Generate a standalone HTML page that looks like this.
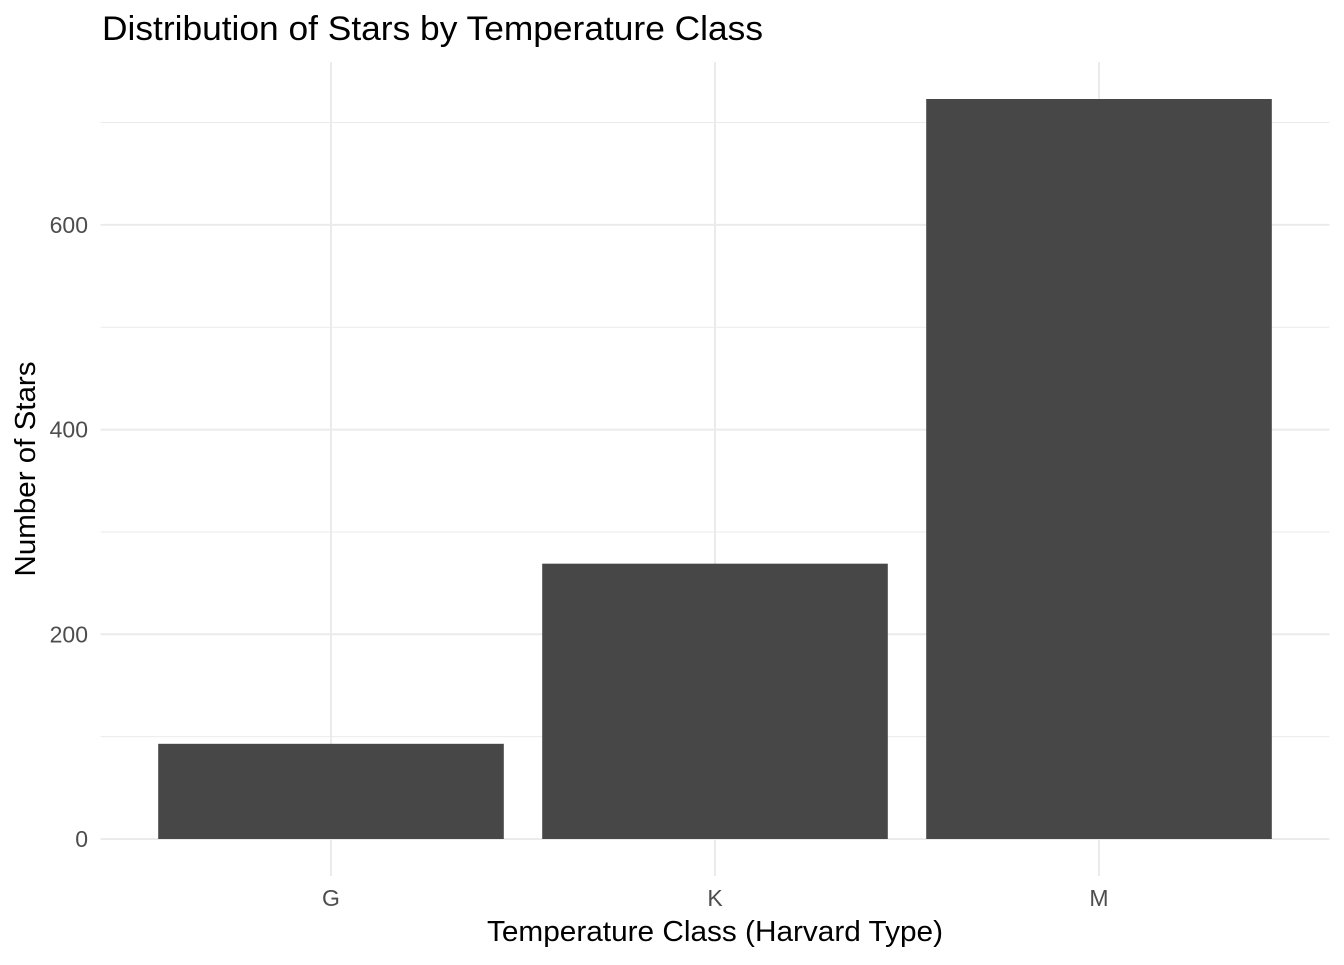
<!DOCTYPE html>
<html><head><meta charset="utf-8"><style>
body{margin:0;background:#fff;}
svg text{font-family:"Liberation Sans",Arial,sans-serif;}
</style></head><body>
<svg id="chart" width="1344" height="960">
<rect width="1344" height="960" fill="#fff"/>
<g id="grid"></g><g id="bars"></g><g id="axes"></g>
<text x="102" y="40" font-size="34" textLength="661" lengthAdjust="spacingAndGlyphs" fill="#000">Distribution of Stars by Temperature Class</text>
<text x="715" y="941" font-size="29" text-anchor="middle" textLength="456" lengthAdjust="spacingAndGlyphs" fill="#000">Temperature Class (Harvard Type)</text>
<text transform="translate(35,469) rotate(-90)" font-size="29" text-anchor="middle" textLength="215" lengthAdjust="spacingAndGlyphs" fill="#000">Number of Stars</text>
</svg>
<script>
const categories=["G","K","M"];
const counts=[93,269,723];
const yTicks=[0,200,400,600];
const yMinor=[100,300,500,700];
const NS="http://www.w3.org/2000/svg";
const L=100.6,R=1329.4,T=62,B=876;
const maxV=Math.max(...counts);
const yMin=-maxV*0.05,yMax=maxV*1.05;
const y=v=>B-(v-yMin)/(yMax-yMin)*(B-T);
const step=(R-L)/(categories.length-1+1.2);
const x=i=>L+0.6*step+i*step;
const bw=step*0.9;
function mk(tag,at,parent){const e=document.createElementNS(NS,tag);for(const k in at)e.setAttribute(k,at[k]);document.getElementById(parent).appendChild(e);return e;}
yMinor.forEach(v=>{if(v>yMax)return;const l=mk('line',{x1:L,x2:R,y1:y(v),y2:y(v),stroke:'#ebebeb','stroke-width':1},'grid');

});
yTicks.forEach(v=>{const l=mk('line',{x1:L,x2:R,y1:y(v),y2:y(v),stroke:'#ebebeb','stroke-width':2},'grid');


const t=mk('text',{x:88,y:y(v)+8,'text-anchor':'end','font-size':23,fill:'#4d4d4d'},'axes');t.textContent=v;

});
categories.forEach((c,i)=>{const l=mk('line',{x1:x(i),x2:x(i),y1:T,y2:B,stroke:'#ebebeb','stroke-width':2},'grid');


const r=mk('rect',{x:x(i)-bw/2,y:y(counts[i]),width:bw,height:y(0)-y(counts[i]),fill:'#474747'},'bars');


const t=mk('text',{x:x(i),y:906,'text-anchor':'middle','font-size':23,fill:'#4d4d4d'},'axes');t.textContent=c;

});
</script>
</body></html>
